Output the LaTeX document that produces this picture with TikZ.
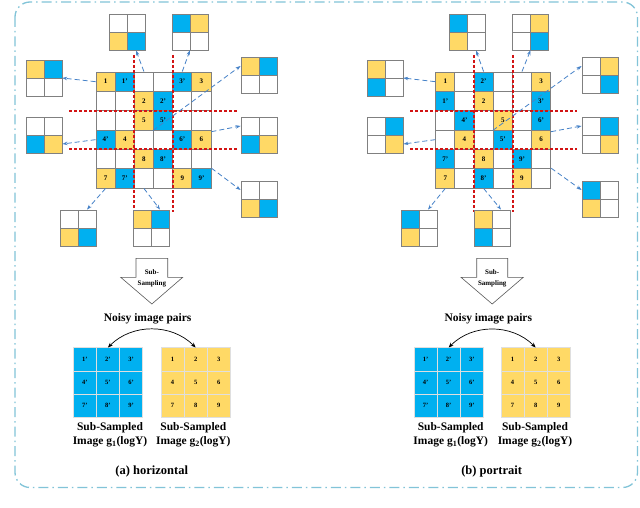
\documentclass[tikz,border=0pt]{standalone}
\usepackage{fontspec}
\setmainfont{Liberation Serif}
\usetikzlibrary{arrows.meta,calc}
\definecolor{cY}{RGB}{255,217,102}
\definecolor{cB}{RGB}{0,176,240}
\definecolor{cW}{RGB}{255,255,255}
\definecolor{frameblue}{RGB}{130,196,216}
\definecolor{arrblue}{RGB}{70,130,200}
\definecolor{reddash}{RGB}{210,20,20}
\definecolor{cellgray}{RGB}{128,128,128}
\tikzset{
  mcell/.style={draw=cellgray,line width=0.9pt,minimum width=19.17pt,minimum height=19.33pt,inner sep=0pt,font=\bfseries\fontsize{7}{8}\selectfont},
  sgcell/.style={draw=cellgray,line width=0.9pt,minimum size=18pt,inner sep=0pt},
  rcell/.style={draw=gray!25,line width=0.5pt,minimum size=23.1pt,inner sep=0pt,font=\bfseries\fontsize{6.5}{7}\selectfont},
  redline/.style={draw=reddash,line width=1.9pt,dash pattern=on 3pt off 2pt},
  barrow/.style={draw=arrblue,line width=0.8pt,dash pattern=on 5pt off 3pt,-{Stealth[length=5pt,width=3.5pt]}},
  karrow/.style={draw=black,line width=0.7pt,{Stealth[length=5pt,width=4pt]}-{Stealth[length=5pt,width=4pt]}},
  blockarrow/.style={fill=white,draw=gray!70!black,line width=0.6pt},
  labeltext/.style={font=\bfseries\fontsize{11.5}{14.4}\selectfont,align=center,inner sep=0pt},
  titletext/.style={font=\bfseries\fontsize{12.5}{14}\selectfont,inner sep=0pt},
  arrtext/.style={font=\bfseries\fontsize{7}{11}\selectfont,align=center,inner sep=0pt},
  framebox/.style={draw=frameblue,line width=1.3pt,dash pattern=on 10pt off 4pt on 1.5pt off 4pt,rounded corners=15pt}
}
% main grid row: prefix, x0, row, list
\newcommand\mrow[4]{%
  \foreach \c/\t [count=\i] in {#4} {
    \node[mcell,fill=\c] (#1-#3-\i) at ({#2+(\i-0.5)*19.17},{72+(#3-0.5)*19.33}) {\t};
  }}
% small 2x2 grid: name, left x, top y, c11, c12, c21, c22
\newcommand\sgrid[7]{%
  \node[minimum size=36pt,inner sep=0pt] (#1) at (#2+18,#3+18) {};
  \node[sgcell,fill=#4] (#1-11) at (#2+9,#3+9) {};
  \node[sgcell,fill=#5] (#1-12) at (#2+27,#3+9) {};
  \node[sgcell,fill=#6] (#1-21) at (#2+9,#3+27) {};
  \node[sgcell,fill=#7] (#1-22) at (#2+27,#3+27) {};
}
% result 3x3 grid: name, left x, top y, colour, labels
\newcommand\rgrid[5]{%
  \node[minimum size=69.3pt,inner sep=0pt] (#1) at (#2+34.65,#3+34.65) {};
  \foreach \t [count=\i] in {#5} {
    \pgfmathsetmacro\cc{mod(\i-1,3)}
    \pgfmathsetmacro\rr{int((\i-1)/3)}
    \node[rcell,fill=#4] (#1-\i) at ({#2+(\cc+0.5)*23.1},{#3+(\rr+0.5)*23.1}) {\t};
  }}
\begin{document}
\begin{tikzpicture}[x=1pt,y=-1pt]
\useasboundingbox (0,0) rectangle (640,508);
\fill[white] (0,0) rectangle (640,508);
\draw[framebox] (15,2) rectangle (637.5,487.5);

% ---------------- left panel ----------------
\mrow{L}{96}{1}{cY/1,cB/1',cW/{},cW/{},cB/3',cY/3}
\mrow{L}{96}{2}{cW/{},cW/{},cY/2,cB/2',cW/{},cW/{}}
\mrow{L}{96}{3}{cW/{},cW/{},cY/5,cB/5',cW/{},cW/{}}
\mrow{L}{96}{4}{cB/4',cY/4,cW/{},cW/{},cB/6',cY/6}
\mrow{L}{96}{5}{cW/{},cW/{},cY/8,cB/8',cW/{},cW/{}}
\mrow{L}{96}{6}{cY/7,cB/7',cW/{},cW/{},cY/9,cB/9'}

\draw[redline] (134.3,55) -- (134.3,212);
\draw[redline] (172.7,55) -- (172.7,212);
\draw[redline] (69,110.7) -- (237,110.7);
\draw[redline] (69,149.3) -- (237,149.3);

\sgrid{LsTL}{109}{14}{cW}{cW}{cY}{cB}
\sgrid{LsTR}{172}{14}{cB}{cY}{cW}{cW}
\sgrid{LsLT}{26}{60}{cY}{cB}{cW}{cW}
\sgrid{LsLM}{26}{117}{cW}{cW}{cB}{cY}
\sgrid{LsRT}{241}{57}{cY}{cB}{cW}{cW}
\sgrid{LsRM}{241}{117}{cW}{cW}{cB}{cY}
\sgrid{LsRB}{241}{181}{cW}{cW}{cY}{cB}
\sgrid{LsBL}{60}{210}{cW}{cW}{cY}{cB}
\sgrid{LsBC}{133}{210}{cY}{cB}{cW}{cW}

\draw[barrow] (L-1-1.west) -- (LsLT.east);
\draw[barrow] (L-1-3.north) -- (LsTL-22.south);
\draw[barrow] (L-1-5.north) -- (LsTR.south);
\draw[barrow] (L-3-4.south west) -- (LsRT-11.west);
\draw[barrow] ($(L-4-6.east)+(0,-8)$) -- (LsRM-11.west);
\draw[barrow] (L-4-1.west) -- (LsLM-22.east);
\draw[barrow] (L-6-6.north east) -- (LsRB-11.west);
\draw[barrow] (L-6-1.south) -- (LsBL-12.north);
\draw[barrow] (L-6-3.south) -- (LsBC-12.north);

\draw[blockarrow] (136,258.3) -- (167.7,258.3) -- (167.7,277.3) -- (182.7,277.3) -- (151.85,304) -- (120.7,277.3) -- (136,277.3) -- cycle;
\node[arrtext] (Lsub) at (151.85,278) {Sub-\\Sampling};
\node[labeltext] (Lnoisy) at (147.7,318.5) {Noisy image pairs};

\rgrid{LB}{73.3}{347.7}{cB}{1',2',3',4',5',6',7',8',9'}
\rgrid{LY}{161}{347.7}{cY}{1,2,3,4,5,6,7,8,9}
\draw[karrow] (LB.north) to[bend left=45] (LY.north);

\node[labeltext] (LBt) at (110,434.5) {Sub-Sampled\\Image g\textsubscript{1}(logY)};
\node[labeltext] (LYt) at (193.3,434.5) {Sub-Sampled\\Image g\textsubscript{2}(logY)};
\node[titletext] (La) at (151.7,471) {(a) horizontal};

% ---------------- right panel ----------------
\mrow{R}{435.7}{1}{cY/1,cW/{},cB/2',cW/{},cW/{},cY/3}
\mrow{R}{435.7}{2}{cB/1',cW/{},cY/2,cW/{},cW/{},cB/3'}
\mrow{R}{435.7}{3}{cW/{},cB/4',cW/{},cY/5,cW/{},cB/6'}
\mrow{R}{435.7}{4}{cW/{},cY/4,cW/{},cB/5',cW/{},cY/6}
\mrow{R}{435.7}{5}{cB/7',cW/{},cY/8,cW/{},cB/9',cW/{}}
\mrow{R}{435.7}{6}{cY/7,cW/{},cB/8',cW/{},cY/9,cW/{}}

\draw[redline] (474.0,55) -- (474.0,212);
\draw[redline] (512.9,55) -- (512.9,212);
\draw[redline] (410,110.7) -- (577,110.7);
\draw[redline] (410,149.3) -- (577,149.3);

\sgrid{RsTL}{449}{14}{cB}{cW}{cY}{cW}
\sgrid{RsTR}{512.5}{14}{cW}{cY}{cW}{cB}
\sgrid{RsLT}{367}{60}{cY}{cW}{cB}{cW}
\sgrid{RsLM}{367}{117}{cW}{cB}{cW}{cY}
\sgrid{RsRT}{582}{57}{cW}{cY}{cW}{cB}
\sgrid{RsRM}{582}{117}{cW}{cB}{cW}{cY}
\sgrid{RsRB}{582}{181}{cB}{cW}{cY}{cW}
\sgrid{RsBL}{401}{210}{cB}{cW}{cY}{cW}
\sgrid{RsBC}{474}{210}{cY}{cW}{cB}{cW}

\draw[barrow] (R-1-1.west) -- (RsLT.east);
\draw[barrow] (R-1-3.north) -- (RsTL-22.south);
\draw[barrow] (R-1-5.north) -- (RsTR.south);
\draw[barrow] (R-3-4.south west) -- (RsRT-11.west);
\draw[barrow] ($(R-4-6.east)+(0,-8)$) -- (RsRM-11.west);
\draw[barrow] (R-4-1.west) -- (RsLM-22.east);
\draw[barrow] (R-6-6.north east) -- (RsRB-11.west);
\draw[barrow] (R-6-1.south) -- (RsBL-12.north);
\draw[barrow] (R-6-3.south) -- (RsBC-12.north);

\draw[blockarrow] (476.7,258.3) -- (507.7,258.3) -- (507.7,277.3) -- (523.3,277.3) -- (492.2,304) -- (461,277.3) -- (476.7,277.3) -- cycle;
\node[arrtext] (Rsub) at (492.2,278) {Sub-\\Sampling};
\node[labeltext] (Rnoisy) at (488.3,318.5) {Noisy image pairs};

\rgrid{RB}{414}{347.7}{cB}{1',2',3',4',5',6',7',8',9'}
\rgrid{RY}{501}{347.7}{cY}{1,2,3,4,5,6,7,8,9}
\draw[karrow] (RB.north) to[bend left=45] (RY.north);

\node[labeltext] (RBt) at (450.7,434.5) {Sub-Sampled\\Image g\textsubscript{1}(logY)};
\node[labeltext] (RYt) at (535,434.5) {Sub-Sampled\\Image g\textsubscript{2}(logY)};
\node[titletext] (Rb) at (491.7,471) {(b) portrait};
\end{tikzpicture}
\end{document}
